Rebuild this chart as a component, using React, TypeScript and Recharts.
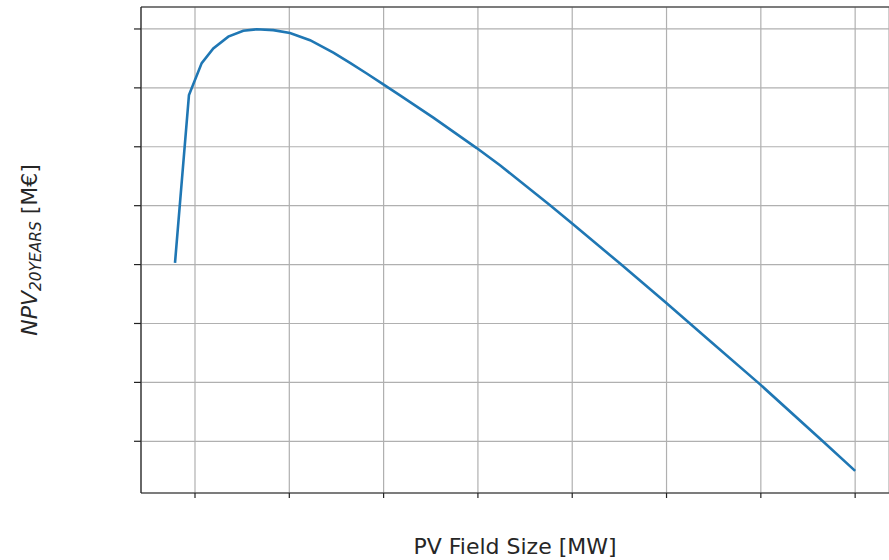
import React from 'react';
import { LineChart, Line, XAxis, YAxis, CartesianGrid, ReferenceLine } from 'recharts';

// PV field size [MW]
const fieldSize = [7.88, 9.36, 10.71, 11.94, 13.53, 15.12, 16.54, 18.3, 20.07, 22.2, 24.67, 26.44, 28.21, 29.97, 31.74, 35.27, 39.87, 42.34, 47.65, 50.12, 55.07, 59.95, 64.61, 69.92, 76.63, 80.0];
// NPV 20 years [M€]
const npv = [3.03, 5.88, 6.42, 6.67, 6.87, 6.97, 6.995, 6.98, 6.93, 6.81, 6.597, 6.424, 6.244, 6.059, 5.873, 5.495, 4.978, 4.686, 4.008, 3.681, 3.017, 2.351, 1.703, 0.966, -0.008, -0.503];

const xTicks = [10, 20, 30, 40, 50, 60, 70, 80];
const yTicks = [0, 1, 2, 3, 4, 5, 6, 7];

const xDomain: [number, number] = [4.274, 83.59];
const yDomain: [number, number] = [-0.878, 7.373];

const data = fieldSize.map((x, i) => ({ x, y: npv[i] }));

const FONT = '"DejaVu Sans", sans-serif';
const AXIS = '#222';

export default function App() {
  return (
    <div style={{ position: 'absolute', left: 0, top: 0, width: 889, height: 560, overflow: 'hidden', background: '#fff' }}>
      <LineChart width={889} height={560} data={data} margin={{ top: 7, right: 0, bottom: 0, left: 0 }}>
        <CartesianGrid stroke="#b0b0b0" strokeWidth={1.2} />
        <XAxis
          dataKey="x"
          type="number"
          domain={xDomain}
          ticks={xTicks}
          allowDataOverflow
          tickFormatter={() => ''}
          tickSize={5}
          height={67}
          axisLine={{ stroke: AXIS, strokeWidth: 1.2 }}
          tickLine={{ stroke: AXIS, strokeWidth: 1.2 }}
        />
        <YAxis
          type="number"
          domain={yDomain}
          ticks={yTicks}
          allowDataOverflow
          tickFormatter={() => ''}
          tickSize={7}
          width={141}
          axisLine={{ stroke: AXIS, strokeWidth: 1.2 }}
          tickLine={{ stroke: AXIS, strokeWidth: 1.2 }}
        />
        <ReferenceLine y={yDomain[1]} stroke={AXIS} strokeWidth={1.2} ifOverflow="visible" />
        <Line type="linear" dataKey="y" stroke="#1f77b4" strokeWidth={2.6} dot={false} isAnimationActive={false} />
      </LineChart>
      <svg width={889} height={560} style={{ position: 'absolute', left: 0, top: 0, pointerEvents: 'none' }}>
        <text x={515} y={554} textAnchor="middle" fontFamily={FONT} fontSize={22} fill="#262626">
          PV Field Size [MW]
        </text>
        <text transform="translate(37,250) rotate(-90)" textAnchor="middle" fontFamily={FONT} fontSize={22} fill="#262626">
          <tspan fontStyle="italic">NPV</tspan>
          <tspan fontStyle="italic" fontSize={15.4} dy={4}>20YEARS</tspan>
          <tspan dy={-4}> [M€]</tspan>
        </text>
      </svg>
    </div>
  );
}
